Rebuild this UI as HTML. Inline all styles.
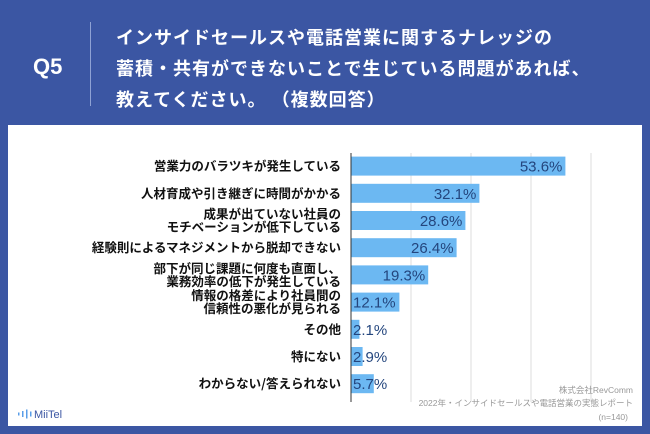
<!DOCTYPE html>
<html><head><meta charset="utf-8">
<style>
body{margin:0;width:650px;height:434px;background:#3b56a3;font-family:"Liberation Sans","Noto Sans CJK JP",sans-serif;overflow:hidden;position:relative}
.q{position:absolute;left:33px;top:54px;color:#fff;font-size:22px;font-weight:bold}
.div{position:absolute;left:90px;top:22px;width:1px;height:84px;background:#8fa2d4}
.title{position:absolute;left:116px;top:22px;color:#fff;font-size:18px;font-weight:bold;line-height:31px;font-family:"Noto Sans CJK JP",sans-serif;letter-spacing:1px}
.panel{position:absolute;left:8px;top:125px;width:634px;height:301px;background:#fff}
svg{position:absolute;left:0;top:0}
</style></head><body>
<div class="q">Q5</div>
<div class="div"></div>
<div class="title">インサイドセールスや電話営業に関するナレッジの<br>蓄積・共有ができないことで生じている問題があれば、<br>教えてください。 （複数回答）</div>
<div class="panel"></div>
<svg id="chart" width="650" height="434"></svg>
<script>
const categories=[["営業力のバラツキが発生している"],["人材育成や引き継ぎに時間がかかる"],["成果が出ていない社員の","モチベーションが低下している"],["経験則によるマネジメントから脱却できない"],["部下が同じ課題に何度も直面し、","業務効率の低下が発生している"],["情報の格差により社員間の","信頼性の悪化が見られる"],["その他"],["特にない"],["わからない/答えられない"]];
const values=[53.6,32.1,28.6,26.4,19.3,12.1,2.1,2.9,5.7];
const gridTicks=[15,30,45,60];
const NS="http://www.w3.org/2000/svg";
const svg=document.getElementById('chart');
const x0=351,pxPer=4,y0=152.5,pitch=27.2,barH=19;
const xs=v=>x0+v*pxPer;
const yc=i=>y0+pitch*(i+0.5);
function mk(t,a){const e=document.createElementNS(NS,t);for(const k in a)e.setAttribute(k,a[k]);svg.appendChild(e);return e;}
gridTicks.forEach(t=>{
  const g=mk('line',{x1:xs(t),x2:xs(t),y1:153,y2:402,stroke:'#dcdcdc','stroke-width':1});
  
  
});
values.forEach((v,i)=>{
  const b=mk('rect',{x:x0,y:yc(i)-barH/2,width:v*pxPer,height:barH,fill:'#6cb8f2'});
  
  
  const inside=v*pxPer>50;
  const t=mk('text',{x:inside?xs(v)-3:x0+2,y:yc(i)+5.5,'font-size':15,fill:'#24467e','text-anchor':inside?'end':'start','font-family':'Liberation Sans, sans-serif'});
  t.textContent=v.toFixed(1)+'%';
  
  
  const lines=categories[i];
  lines.forEach((s,j)=>{
    const l=mk('text',{x:341,y:yc(i)+4.5+(j-(lines.length-1)/2)*13,'font-size':12.5,'font-weight':'bold',fill:'#111','text-anchor':'end','font-family':'Noto Sans CJK JP, sans-serif'});
    l.textContent=s;
    
    
  });
});
const ax=mk('line',{x1:x0,x2:x0,y1:153,y2:402,stroke:'#333','stroke-width':1});


[["株式会社RevComm",390,633],["2022年・インサイドセールスや電話営業の実態レポート",403,633],["(n=140)",417,628]].forEach(([s,y,x])=>{
  const f=mk('text',{x:x,y:y+3,'font-size':8.5,fill:'#999','text-anchor':'end','font-family':'Liberation Sans, Noto Sans CJK JP, sans-serif'});
  f.textContent=s;
  
  
});
const logo=mk('text',{x:34,y:418,'font-size':11,fill:'#3b56a3','font-family':'Liberation Sans, sans-serif'});
logo.textContent='MiiTel';


[[18,3],[22,6],[26,9],[30,5]].forEach(([x,h])=>{
  const r=mk('rect',{x:x,y:414-h/2,width:1.5,height:h,fill:'#5a9ee8'});
  
  
});
</script>
</body></html>
